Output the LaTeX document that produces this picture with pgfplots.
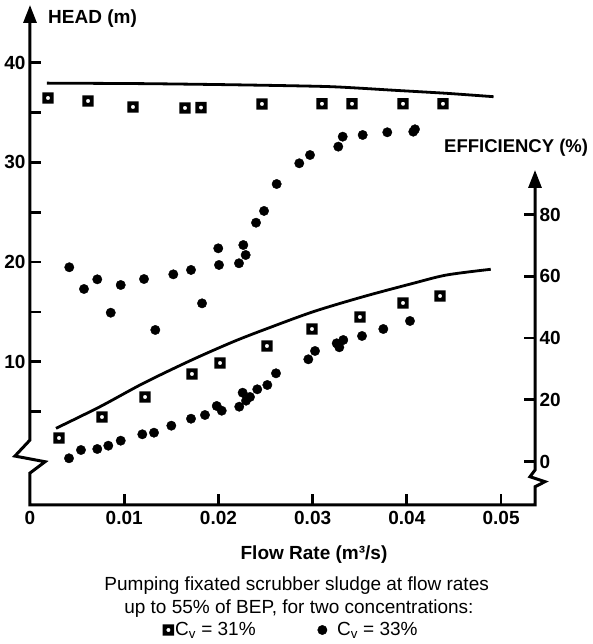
\documentclass[border=0pt]{standalone}
\usepackage{fontspec}
\setmainfont{Liberation Sans}
\usepackage{pgfplots}
\pgfplotsset{compat=1.18}
\usetikzlibrary{arrows.meta}
\newcommand{\lab}{\fontsize{19}{22}\selectfont\bfseries}
\newcommand{\captxt}{\fontsize{19}{22}\selectfont}
\pgfplotsset{tightmark/.style={legend image code/.code={\draw[##1] plot coordinates {(0pt,0pt)};}}}
% thick open square ring mark
\pgfdeclareplotmark{ringsq}{%
  \pgfsetcornersarced{\pgfpoint{2.6pt}{2.6pt}}%
  \pgfpathrectangle{\pgfpoint{-5.7pt}{-5.7pt}}{\pgfpoint{11.4pt}{11.4pt}}%
  \pgfsetcornersarced{\pgfpointorigin}%
  \pgfpathcircle{\pgfpointorigin}{2.1pt}%
  \pgfseteorule
  \pgfusepathqfill
}
\begin{document}
\begin{tikzpicture}
% ---------- HEAD axis ----------
\begin{axis}[
  at={(0pt,0pt)}, anchor=south west,
  scale only axis, width=505pt, height=500pt,
  xmin=0, xmax=0.0536, ymin=-4.37, ymax=45.79,
  clip=false,
  axis x line=bottom, axis y line=left,
  axis line style={draw=none},
  tick align=inside,
  major tick length=11pt,
  tick style={line width=2.8pt, black},
  scaled x ticks=false,
  xtick={0,0.01,0.02,0.03,0.04,0.05},
  xticklabels={0,0.01,0.02,0.03,0.04,0.05},
  ytick={5,10,15,20,25,30,35,40},
  yticklabels={,10,,20,,30,,40},
  tick label style={font=\lab},
  yticklabel style={xshift=-1pt},
  xticklabel style={yshift=-3pt},
]
% head curve (Cv = 31 %)
\addplot[line width=2.8pt, smooth, tension=0.4] coordinates {
 (0.0018,37.95) (0.0120,37.90) (0.0220,37.78) (0.0318,37.60)
 (0.0389,37.22) (0.0442,36.93) (0.0492,36.59)};
% head, Cv = 31 % (open squares)
\addplot[only marks, mark=ringsq, mark options={fill=black}]
 coordinates {
 (0.00191,36.46) (0.00616,36.16) (0.01093,35.56) (0.01645,35.46) (0.01815,35.50)
 (0.02462,35.86) (0.03099,35.88) (0.03418,35.88) (0.03959,35.88) (0.04383,35.88)};
% head, Cv = 33 % (filled circles)
\addplot[only marks, mark=*, mark size=4.7pt, mark options={fill=black, draw=black}]
 coordinates {
 (0.00417,19.48) (0.00573,17.30) (0.00714,18.27) (0.00857,14.92) (0.00963,17.70)
 (0.01210,18.30) (0.01330,13.19) (0.01521,18.77) (0.01709,19.21) (0.01826,15.86)
 (0.02006,19.71) (0.01998,21.38) (0.02218,19.88) (0.02289,20.71) (0.02264,21.71)
 (0.02399,23.95) (0.02484,25.13) (0.02618,27.83) (0.02858,29.91) (0.02972,30.74)
 (0.03272,31.58) (0.03319,32.58) (0.03531,32.75) (0.03792,33.02) (0.04068,33.08)
 (0.04086,33.32)};
% axis frame with breaks and arrows
\draw[line width=3pt, line join=miter,
  {Triangle[length=18pt,width=13pt]}-{Triangle[length=18pt,width=13pt]}]
  (axis cs:0.0536,29.24) -- (axis cs:0.0536,-0.86) -- (axis cs:0.05307,-1.53)
  -- (axis cs:0.05466,-2.03) -- (axis cs:0.0536,-2.54) -- (axis cs:0.0536,-4.37)
  -- (axis cs:0,-4.37) -- (axis cs:0,-1.16) -- (axis cs:0.0016,-0.03)
  -- (axis cs:-0.0016,0.54) -- (axis cs:0,2.15) -- (axis cs:0,45.79);
\end{axis}
% ---------- EFFICIENCY axis ----------
\begin{axis}[
  at={(0pt,0pt)}, anchor=south west,
  scale only axis, width=505pt, height=500pt,
  xmin=0, xmax=0.0536, ymin=-14.09, ymax=147.85,
  clip=false,
  axis x line=none, axis y line=right,
  axis line style={draw=none},
  tick align=inside,
  major tick length=11pt,
  tick style={line width=2.8pt, black},
  scaled x ticks=false,
  xtick=\empty,
  ytick={0,20,40,60,80},
  yticklabels={0,20,40,60,80},
  tick label style={font=\lab},
  yticklabel style={xshift=1pt},
  legend style={draw=none, fill=none, inner sep=0pt, outer sep=0pt,
    at={(0.2628,-0.25)}, anchor=west, font=\captxt,
    nodes={inner sep=1pt},
    /tikz/column 2/.style={column sep=61pt}},
  legend columns=2,
]
% efficiency, Cv = 31 % (open squares)
\addplot[only marks, mark=ringsq, mark options={fill=black}, tightmark]
 coordinates {
 (0.00308,7.61) (0.00764,14.41) (0.01221,20.89) (0.01719,28.34) (0.02017,31.90)
 (0.02515,37.41) (0.02993,42.91) (0.03502,46.80) (0.03959,51.34) (0.04352,53.60)};
\addlegendentry{C\textsubscript{v} = 31\%}
% efficiency, Cv = 33 % (filled circles)
\addplot[only marks, mark=*, mark size=4.7pt, mark options={fill=black, draw=black},
  tightmark]
 coordinates {
 (0.00414,1.04) (0.00541,3.72) (0.00714,4.05) (0.00831,5.12) (0.00963,6.74)
 (0.01192,8.81) (0.01316,9.33) (0.01500,11.60) (0.01709,13.86) (0.01857,15.06)
 (0.01982,17.98) (0.02035,16.45) (0.02221,17.75) (0.02257,22.28) (0.02293,19.69)
 (0.02335,20.90) (0.02412,23.38) (0.02519,24.78) (0.02611,28.56) (0.02954,33.10)
 (0.03025,35.79) (0.03255,38.28) (0.03325,39.35) (0.03283,36.99) (0.03524,40.65)
 (0.03750,42.91) (0.04033,45.51)};
\addlegendentry{\hspace*{9pt}C\textsubscript{v} = 33\%}
% efficiency curve
\addplot[line width=2.8pt, smooth, tension=0.5] coordinates {
 (0.00276,10.75) (0.00743,17.75) (0.01203,25.33) (0.01716,32.87) (0.02158,38.80)
 (0.02512,43.00) (0.03007,48.52) (0.03537,53.38) (0.04068,57.72) (0.04423,60.41)
 (0.04890,62.25)};
\end{axis}
% ---------- texts ----------
\node[anchor=base west, inner sep=0pt, font=\lab] at (18pt,481pt) {HEAD (m)};
\node[anchor=base west, inner sep=0pt, font=\fontsize{18.5}{22}\selectfont\bfseries] at (414pt,352.3pt) {EFFICIENCY (\%)};
\node[anchor=base, inner sep=0pt, font=\lab] at (284pt,-55pt) {Flow Rate (m³/s)};
\node[anchor=base, inner sep=0pt, font=\captxt] at (266.7pt,-85pt) {Pumping fixated scrubber sludge at flow rates};
\node[anchor=base, inner sep=0pt, font=\captxt] at (268.9pt,-108pt) {up to 55\% of BEP, for two concentrations:};
% fixed page size
\path (-30pt,-139pt) rectangle (563pt,505pt);
\end{tikzpicture}
\end{document}
